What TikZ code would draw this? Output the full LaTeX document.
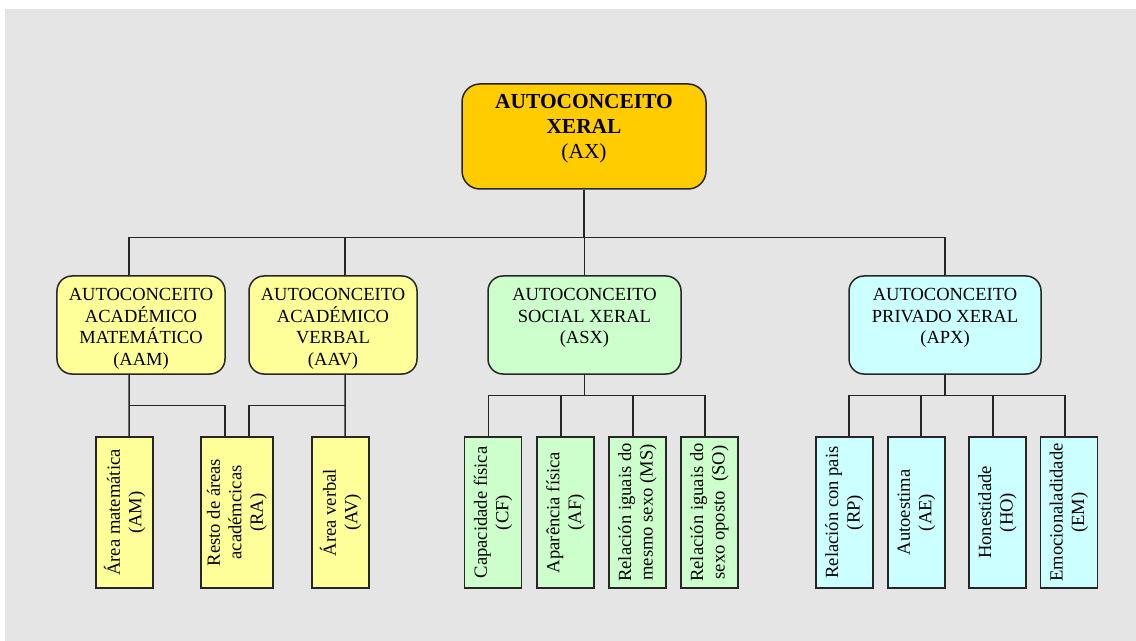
\documentclass[tikz,border=0pt]{standalone}
\usepackage{fontspec}
\setmainfont{Liberation Serif}
\usetikzlibrary{calc}
\definecolor{bg}{HTML}{E5E5E5}
\definecolor{gold}{HTML}{FFCC00}
\definecolor{acad}{HTML}{FFFF99}
\definecolor{soc}{HTML}{CCFFCC}
\definecolor{priv}{HTML}{CCFFFF}
\definecolor{ink}{HTML}{262626}

\begin{document}
\begin{tikzpicture}[x=1bp,y=-1bp,
  box/.style={draw=ink, line width=1.5bp, rounded corners=15bp, inner sep=0pt},
  topbox/.style={box, fill=gold, minimum width=244bp, minimum height=105bp, rounded corners=18bp},
  midbox/.style={box, minimum height=98bp},
  leaf/.style={draw=ink, line width=1.5bp, inner sep=0pt, minimum width=57bp, minimum height=151bp},
  toptext/.style={anchor=north, inner sep=0pt, align=center, font=\fontsize{21.4bp}{25bp}\selectfont},
  midtext/.style={anchor=north, inner sep=0pt, align=center, font=\fontsize{18.5bp}{21.5bp}\selectfont},
  leaftext/.style={rotate=90, inner sep=0pt, align=center, font=\fontsize{18.6bp}{21.5bp}\selectfont},
  wire/.style={draw=ink, line width=1.5bp}]

\useasboundingbox (0,0) rectangle (1136,641);
\fill[white] (0,0) rectangle (1136,641);
\fill[bg] (5,9) rectangle (1136,641);

% root
\node[topbox] (AX) at (584,136.5) {};
\node[toptext] (AX-t) at ([yshift=-11bp]AX.north) {\textbf{AUTOCONCEITO}\\\textbf{XERAL}\\(AX)};

% second level
\node[midbox, fill=acad, minimum width=168bp] (AAM) at (141,325) {};
\node[midbox, fill=acad, minimum width=168bp] (AAV) at (333,325) {};
\node[midbox, fill=soc, minimum width=193bp] (ASX) at (584.5,325) {};
\node[midbox, fill=priv, minimum width=192bp] (APX) at (945,325) {};
\node[midtext] (AAM-t) at ([yshift=-13.3bp]AAM.north) {AUTOCONCEITO\\ACADÉMICO\\MATEMÁTICO\\(AAM)};
\node[midtext] (AAV-t) at ([yshift=-13.3bp]AAV.north) {AUTOCONCEITO\\ACADÉMICO\\VERBAL\\(AAV)};
\node[midtext] (ASX-t) at ([yshift=-13.3bp]ASX.north) {AUTOCONCEITO\\SOCIAL XERAL\\(ASX)};
\node[midtext] (APX-t) at ([yshift=-13.3bp]APX.north) {AUTOCONCEITO\\PRIVADO XERAL\\(APX)};

% leaves
\node[leaf, fill=acad] (AM) at (124.5,512.5) {};
\node[leaf, fill=acad, minimum width=72bp] (RA) at (237,512.5) {};
\node[leaf, fill=acad] (AV) at (340.5,512.5) {};
\node[leaf, fill=soc] (CF) at (493,512.5) {};
\node[leaf, fill=soc] (AF) at (565.5,512.5) {};
\node[leaf, fill=soc] (MS) at (637.5,512.5) {};
\node[leaf, fill=soc] (SO) at (709.5,512.5) {};
\node[leaf, fill=priv] (RP) at (844.5,512.5) {};
\node[leaf, fill=priv] (AE) at (916.5,512.5) {};
\node[leaf, fill=priv] (HO) at (997.5,512.5) {};
\node[leaf, fill=priv] (EM) at (1069,512.5) {};

\node[leaftext] (AM-t) at (AM) {Área matemática\\(AM)};
\node[leaftext] (RA-t) at (RA) {Resto de áreas\\académcicas\\(RA)};
\node[leaftext] (AV-t) at (AV) {Área verbal\\(AV)};
\node[leaftext] (CF-t) at (CF) {Capacidade física\\(CF)};
\node[leaftext] (AF-t) at (AF) {Aparência física\\(AF)};
\node[leaftext] (MS-t) at (MS) {Relación iguais do\\mesmo sexo (MS)};
\node[leaftext] (SO-t) at (SO) {Relación iguais do\\sexo oposto\ \ (SO)};
\node[leaftext] (RP-t) at (RP) {Relación con pais\\(RP)};
\node[leaftext] (AE-t) at (AE) {Autoestima\\(AE)};
\node[leaftext] (HO-t) at (HO) {Honestidade\\(HO)};
\node[leaftext] (EM-t) at (EM) {Emocionaladidade\\(EM)};

% connectors: root to second level
\coordinate (bus) at (0,237.5);
\draw[wire] (AX.south) -- (AX.south |- bus);
\draw[wire] ([xshift=-12bp]AAM.north) -- ([xshift=-12bp]AAM.north |- bus) -- (APX.north |- bus) -- (APX.north);
\draw[wire] ([xshift=12bp]AAV.north) -- ([xshift=12bp]AAV.north |- bus);
\draw[wire] (ASX.north) -- (ASX.north |- bus);

% academic branch
\coordinate (abus) at (0,405.5);
\draw[wire] ([xshift=-12bp]AAM.south) -- ([xshift=4.5bp]AM.north);
\draw[wire] ([xshift=-12bp]AAM.south |- abus) -| ([xshift=-12bp]RA.north);
\draw[wire] ([xshift=12bp]AAV.south) -- ([xshift=4.5bp]AV.north);
\draw[wire] ([xshift=12bp]AAV.south |- abus) -| ([xshift=12bp]RA.north);

% social branch
\coordinate (sbus) at (0,395.5);
\draw[wire] (ASX.south) -- (ASX.south |- sbus);
\draw[wire] ([xshift=-4.5bp]CF.north) -- ([xshift=-4.5bp]CF.north |- sbus) -- ([xshift=-4.5bp]SO.north |- sbus) -- ([xshift=-4.5bp]SO.north);
\draw[wire] ([xshift=-4.5bp]AF.north) -- ([xshift=-4.5bp]AF.north |- sbus);
\draw[wire] ([xshift=-4.5bp]MS.north) -- ([xshift=-4.5bp]MS.north |- sbus);

% private branch
\draw[wire] (APX.south) -- (APX.south |- sbus);
\draw[wire] ([xshift=4.5bp]RP.north) -- ([xshift=4.5bp]RP.north |- sbus) -- ([xshift=-4bp]EM.north |- sbus) -- ([xshift=-4bp]EM.north);
\draw[wire] ([xshift=4.5bp]AE.north) -- ([xshift=4.5bp]AE.north |- sbus);
\draw[wire] ([xshift=-4.5bp]HO.north) -- ([xshift=-4.5bp]HO.north |- sbus);
\end{tikzpicture}
\end{document}
